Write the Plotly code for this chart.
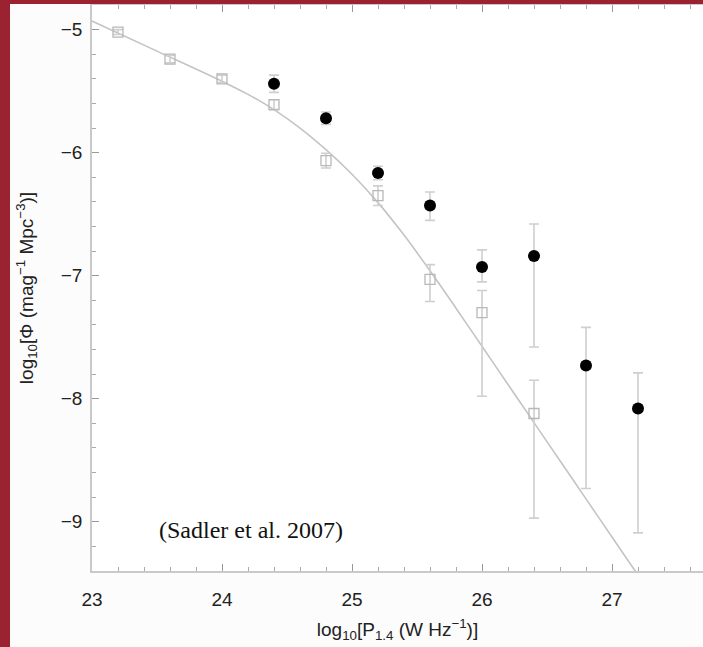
import plotly.graph_objects as go

# Radio luminosity function: log10 P(1.4 GHz) vs log10 Phi
# Local sample (open squares)
sq_x = [23.2, 23.6, 24.0, 24.4, 24.8, 25.2, 25.6, 26.0, 26.4]
sq_y = [-5.02, -5.24, -5.40, -5.61, -6.065, -6.35, -7.03, -7.30, -8.12]
sq_err_up = [0.02, 0.03, 0.03, 0.04, 0.06, 0.08, 0.12, 0.18, 0.27]
sq_err_dn = [0.02, 0.03, 0.03, 0.04, 0.06, 0.08, 0.18, 0.68, 0.85]

# High-redshift sample (filled circles)
ci_x = [24.4, 24.8, 25.2, 25.6, 26.0, 26.4, 26.8, 27.2]
ci_y = [-5.44, -5.72, -6.165, -6.43, -6.93, -6.84, -7.73, -8.08]
ci_err_up = [0.07, 0.05, 0.055, 0.11, 0.14, 0.26, 0.31, 0.29]
ci_err_dn = [0.07, 0.05, 0.055, 0.12, 0.12, 0.74, 1.00, 1.01]

# Fitted luminosity function curve
fit_x = [23.0, 23.5, 24.0, 24.2, 24.4, 24.6, 24.8, 25.0, 25.2, 25.4,
         25.6, 25.8, 26.0, 26.2, 26.4, 26.6, 26.8, 27.0, 27.2]
fit_y = [-4.93, -5.175, -5.42, -5.526, -5.65, -5.80, -5.976, -6.176, -6.406, -6.67,
         -6.96, -7.264, -7.574, -7.884, -8.194, -8.504, -8.814, -9.124, -9.434]

x_ticks = [23, 24, 25, 26, 27]
y_ticks = [-9, -8, -7, -6, -5]

W, H = 703, 647
L, R, T, B = 92, 0, 5, 76
RED = "#9a2231"
AXIS = "#c9c9c9"
SANS = "Liberation Sans, Arial, sans-serif"

fig = go.Figure()

fig.add_trace(go.Scatter(
    x=fit_x, y=fit_y, mode="lines", line_shape="spline",
    line=dict(color="#c4c4c4", width=1.6), hoverinfo="skip"))

fig.add_trace(go.Scatter(
    x=sq_x, y=sq_y, mode="markers",
    marker=dict(symbol="square-open", size=10, color="#b8b8b8",
                line=dict(width=1.3, color="#b8b8b8")),
    error_y=dict(type="data", symmetric=False, array=sq_err_up,
                 arrayminus=sq_err_dn, color="#cfcfcf", thickness=1.6, width=5)))

fig.add_trace(go.Scatter(
    x=ci_x, y=ci_y, mode="markers",
    marker=dict(symbol="circle", size=12, color="black"),
    error_y=dict(type="data", symmetric=False, array=ci_err_up,
                 arrayminus=ci_err_dn, color="#cfcfcf", thickness=1.6, width=5)))

fig.add_annotation(
    x=23.5, y=-9.065, xref="x", yref="y", xanchor="left", yanchor="middle",
    text="(Sadler et al. 2007)", showarrow=False,
    font=dict(family="Liberation Serif, Times New Roman, serif", size=24, color="#111"))

# Dark red frame strips on the left and top edges
px_w = W - L - R
px_h = H - T - B
fig.add_shape(type="rect", xref="paper", yref="paper",
              x0=(0 - L) / px_w, x1=(10 - L) / px_w,
              y0=-(B + 5) / px_h, y1=1 + (T + 5) / px_h,
              fillcolor=RED, line_width=0, layer="above")
fig.add_shape(type="rect", xref="paper", yref="paper",
              x0=(0 - L) / px_w, x1=1.01,
              y0=1 + (T - 4) / px_h, y1=1 + (T + 5) / px_h,
              fillcolor=RED, line_width=0, layer="above")

tick_font = dict(family=SANS, size=19, color="#222")

fig.update_layout(
    width=W, height=H,
    margin=dict(l=L, r=R, t=T, b=B),
    paper_bgcolor="#fcfcfc", plot_bgcolor="white",
    showlegend=False,
    xaxis=dict(range=[23, 27.7], tickvals=x_ticks, ticks="inside", ticklen=7,
               tickcolor="#999", tickwidth=1, showgrid=False, zeroline=False,
               showline=True, linecolor=AXIS, linewidth=1.5, mirror="ticks",
               minor=dict(dtick=0.2, ticks="inside", ticklen=4, tickcolor="#aaa"),
               tickfont=tick_font, ticklabelstandoff=10,
               title=dict(text="log<sub>10</sub>[P<sub>1.4</sub> (W Hz<sup>−1</sup>)]",
                          font=dict(family=SANS, size=19, color="#222"),
                          standoff=14)),
    yaxis=dict(range=[-9.4, -4.8], tickvals=y_ticks, ticks="inside", ticklen=7,
               tickcolor="#999", tickwidth=1, showgrid=False, zeroline=False,
               showline=True, linecolor=AXIS, linewidth=1.5,
               minor=dict(dtick=0.2, ticks="inside", ticklen=4, tickcolor="#aaa"),
               tickfont=tick_font, ticklabelstandoff=4,
               title=dict(text="log<sub>10</sub>[Φ (mag<sup>−1</sup> Mpc<sup>−3</sup>)]",
                          font=dict(family=SANS, size=19, color="#222"),
                          standoff=22)),
)

fig.write_html("out.html")
